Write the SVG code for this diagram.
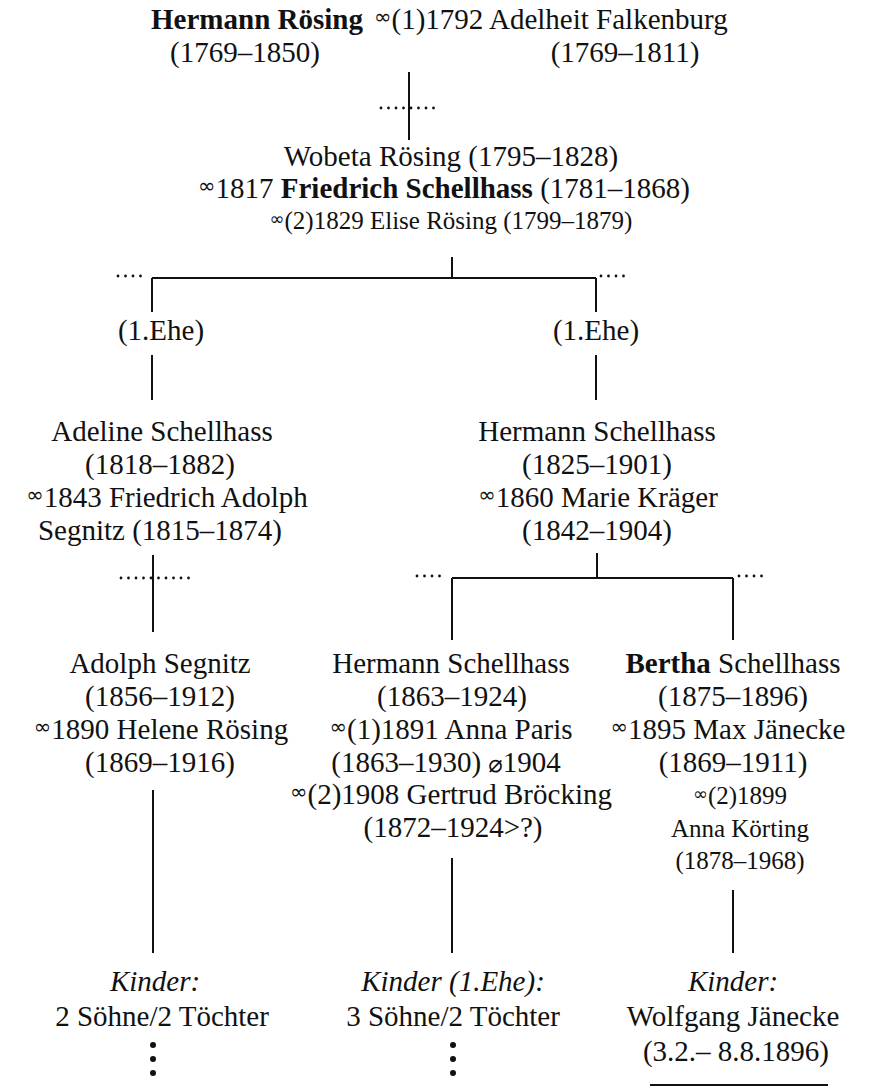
<svg xmlns="http://www.w3.org/2000/svg" width="876" height="1091" viewBox="0 0 876 1091">
<style>
text{font-family:"Liberation Serif","DejaVu Serif",serif;fill:#111;font-size:29px;text-anchor:middle}
.s{font-size:25px}
.b{font-weight:bold}
.i{font-style:italic}
.m{font-family:"DejaVu Sans",sans-serif;font-size:21px}
.ms{font-family:"DejaVu Sans",sans-serif;font-size:18px}
.ln{stroke:#111;stroke-width:2;fill:none}
.dt{stroke:#111;stroke-width:2.8;stroke-linecap:round;stroke-dasharray:0 7.5;fill:none}
</style>
<rect width="876" height="1091" fill="#fff"/>
<g id="connectors">
<path class="ln" d="M409 72V140M452 257V278M152 278H596M152 278V312M596 278V312M152 355V400M596 355V400M153 555V632M597 553V578M452 578H733M452 578V640M733 578V640M153 790V953M452 858V953M733 890V953M650 1085H828"/>
<path class="dt" d="M381 108H440M118 276H146M601 276H628M121 578H191M417 576H447M739 576H769"/>
<g fill="#111"><circle cx="153" cy="1045" r="3"/><circle cx="153" cy="1059" r="3"/><circle cx="153" cy="1073" r="3"/><circle cx="453" cy="1045" r="3"/><circle cx="453" cy="1059" r="3"/><circle cx="453" cy="1073" r="3"/></g>
</g>
<g id="n-hermann-roesing">
<text x="257" y="29" class="b">Hermann Rösing</text>
<text x="245" y="62">(1769–1850)</text>
</g>
<g id="n-adelheit">
<text x="374" y="29" style="text-anchor:start"><tspan class="m" dy="-5">∞</tspan><tspan dy="5">(1)1792 Adelheit Falkenburg</tspan></text>
<text x="625" y="62">(1769–1811)</text>
</g>
<g id="n-wobeta">
<text x="451" y="166">Wobeta Rösing (1795–1828)</text>
<text x="444" y="198"><tspan class="m" dy="-5">∞</tspan><tspan dy="5">1817 </tspan><tspan class="b">Friedrich Schellhass</tspan> (1781–1868)</text>
<text x="451" y="229" class="s"><tspan class="ms" dy="-4">∞</tspan><tspan dy="4">(2)1829 Elise Rösing (1799–1879)</tspan></text>
</g>
<g id="n-ehe1-left"><text x="161" y="340">(1.Ehe)</text></g>
<g id="n-ehe1-right"><text x="596" y="340">(1.Ehe)</text></g>
<g id="n-adeline">
<text x="162" y="441">Adeline Schellhass</text>
<text x="160" y="474">(1818–1882)</text>
<text x="167" y="507"><tspan class="m" dy="-5">∞</tspan><tspan dy="5">1843 Friedrich Adolph</tspan></text>
<text x="160" y="540">Segnitz (1815–1874)</text>
</g>
<g id="n-hermann-1825">
<text x="597" y="441">Hermann Schellhass</text>
<text x="597" y="474">(1825–1901)</text>
<text x="598" y="507"><tspan class="m" dy="-5">∞</tspan><tspan dy="5">1860 Marie Kräger</tspan></text>
<text x="597" y="540">(1842–1904)</text>
</g>
<g id="n-adolph">
<text x="160" y="673">Adolph Segnitz</text>
<text x="160" y="706">(1856–1912)</text>
<text x="161" y="739"><tspan class="m" dy="-5">∞</tspan><tspan dy="5">1890 Helene Rösing</tspan></text>
<text x="160" y="772">(1869–1916)</text>
</g>
<g id="n-hermann-1863">
<text x="451" y="673">Hermann Schellhass</text>
<text x="452" y="706">(1863–1924)</text>
<text x="451" y="739"><tspan class="m" dy="-5">∞</tspan><tspan dy="5">(1)1891 Anna Paris</tspan></text>
<text x="446" y="772">(1863–1930) <tspan style="font-family:'DejaVu Sans',sans-serif;font-size:24px">⌀</tspan>1904</text>
<text x="451" y="804"><tspan class="m" dy="-5">∞</tspan><tspan dy="5">(2)1908 Gertrud Bröcking</tspan></text>
<text x="453" y="837">(1872–1924&gt;?)</text>
</g>
<g id="n-bertha">
<text x="733" y="673"><tspan class="b">Bertha</tspan> Schellhass</text>
<text x="733" y="706">(1875–1896)</text>
<text x="728" y="739"><tspan class="m" dy="-5">∞</tspan><tspan dy="5">1895 Max Jänecke</tspan></text>
<text x="733" y="772">(1869–1911)</text>
<text x="740" y="804" class="s"><tspan class="ms" dy="-4">∞</tspan><tspan dy="4">(2)1899</tspan></text>
<text x="740" y="837" class="s">Anna Körting</text>
<text x="740" y="869" class="s">(1878–1968)</text>
</g>
<g id="n-kinder-left">
<text x="155" y="991" class="i">Kinder:</text>
<text x="162" y="1026">2 Söhne/2 Töchter</text>
</g>
<g id="n-kinder-mid">
<text x="453" y="991" class="i">Kinder (1.Ehe):</text>
<text x="453" y="1026">3 Söhne/2 Töchter</text>
</g>
<g id="n-kinder-right">
<text x="733" y="991" class="i">Kinder:</text>
<text x="733" y="1026">Wolfgang Jänecke</text>
<text x="736" y="1061">(3.2.– 8.8.1896)</text>
</g>
</svg>
